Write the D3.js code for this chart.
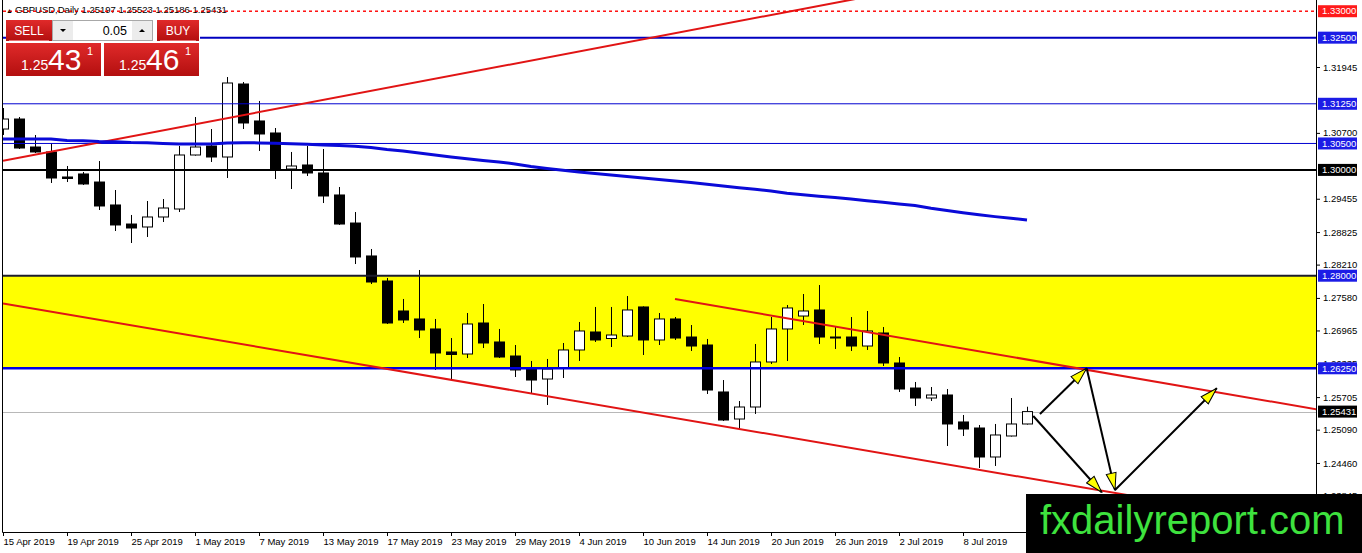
<!DOCTYPE html>
<html>
<head>
<meta charset="utf-8">
<script src="https://cdn.jsdelivr.net/npm/d3@7/dist/d3.min.js"></script>
<style>
  body { margin: 0; background: #ffffff; overflow: hidden; }
  svg text { font-family: 'Liberation Sans', Arial, sans-serif; }
</style>
</head>
<body>
<div class="graph"><svg></svg></div>
<script>
// GBPUSD daily bars
const dates = [
  '15 Apr 2019', '16 Apr 2019', '17 Apr 2019', '18 Apr 2019', '19 Apr 2019',
  '22 Apr 2019', '23 Apr 2019', '24 Apr 2019', '25 Apr 2019', '26 Apr 2019',
  '29 Apr 2019', '30 Apr 2019', '1 May 2019', '2 May 2019', '3 May 2019',
  '6 May 2019', '7 May 2019', '8 May 2019', '9 May 2019', '10 May 2019',
  '13 May 2019', '14 May 2019', '15 May 2019', '16 May 2019', '17 May 2019',
  '20 May 2019', '21 May 2019', '22 May 2019', '23 May 2019', '24 May 2019',
  '27 May 2019', '28 May 2019', '29 May 2019', '30 May 2019', '31 May 2019',
  '3 Jun 2019', '4 Jun 2019', '5 Jun 2019', '6 Jun 2019', '7 Jun 2019',
  '10 Jun 2019', '11 Jun 2019', '12 Jun 2019', '13 Jun 2019', '14 Jun 2019',
  '17 Jun 2019', '18 Jun 2019', '19 Jun 2019', '20 Jun 2019', '21 Jun 2019',
  '24 Jun 2019', '25 Jun 2019', '26 Jun 2019', '27 Jun 2019', '28 Jun 2019',
  '1 Jul 2019', '2 Jul 2019', '3 Jul 2019', '4 Jul 2019', '5 Jul 2019',
  '8 Jul 2019', '9 Jul 2019', '10 Jul 2019', '11 Jul 2019', '12 Jul 2019'
]

const opens = [
  1.30773, 1.30962, 1.30433, 1.30339, 1.29866, 1.29923, 1.29771, 1.29337, 1.28977, 1.28921,
  1.29110, 1.29261, 1.30282, 1.30452, 1.30244, 1.31624, 1.30925, 1.30698, 1.30017, 1.30093,
  1.29942, 1.29526, 1.28996, 1.28373, 1.27900, 1.27333, 1.27182, 1.26993, 1.26558, 1.26520,
  1.27106, 1.26747, 1.26482, 1.26236, 1.26047, 1.26255, 1.26596, 1.26936, 1.26813, 1.26860,
  1.27409, 1.26785, 1.27182, 1.26841, 1.26690, 1.25802, 1.25291, 1.25518, 1.26369, 1.26993,
  1.27238, 1.27352, 1.26841, 1.26841, 1.26671, 1.26917, 1.26350, 1.25877, 1.25688, 1.25745,
  1.25235, 1.25121, 1.24573, 1.24970, 1.25197
]

const highs = [
  1.31170, 1.31000, 1.30660, 1.30509, 1.30074, 1.29961, 1.30168, 1.29620, 1.29148, 1.29412,
  1.29450, 1.30452, 1.31000, 1.30773, 1.31756, 1.31662, 1.31303, 1.30792, 1.30339, 1.30452,
  1.30395, 1.29677, 1.29204, 1.28505, 1.27957, 1.27560, 1.28108, 1.27182, 1.26822, 1.27295,
  1.27465, 1.26993, 1.26690, 1.26388, 1.26426, 1.26728, 1.27125, 1.27409, 1.27409, 1.27616,
  1.27420, 1.27295, 1.27219, 1.27068, 1.26804, 1.26028, 1.25631, 1.26709, 1.27219, 1.27446,
  1.27654, 1.27824, 1.27030, 1.27219, 1.27333, 1.27030, 1.26463, 1.25991, 1.25896, 1.25858,
  1.25367, 1.25178, 1.25197, 1.25688, 1.25523
]

const lows = [
  1.30660, 1.30395, 1.30320, 1.29753, 1.29771, 1.29715, 1.29242, 1.28845, 1.28618, 1.28732,
  1.29015, 1.29204, 1.30270, 1.30150, 1.29847, 1.30773, 1.30358, 1.29828, 1.29639, 1.29885,
  1.29374, 1.28960, 1.28221, 1.27843, 1.27087, 1.27106, 1.26822, 1.26218, 1.26047, 1.26444,
  1.26633, 1.26444, 1.26085, 1.25783, 1.25556, 1.26066, 1.26388, 1.26747, 1.26652, 1.26841,
  1.26501, 1.26690, 1.26785, 1.26577, 1.25764, 1.25253, 1.25083, 1.25386, 1.26331, 1.26388,
  1.27068, 1.26709, 1.26615, 1.26577, 1.26596, 1.26293, 1.25802, 1.25537, 1.25631, 1.24781,
  1.24970, 1.24365, 1.24403, 1.24960, 1.25186
]

const closes = [
  1.30962, 1.30414, 1.30339, 1.29847, 1.29838, 1.29734, 1.29318, 1.28959, 1.28902, 1.29110,
  1.29280, 1.30282, 1.30433, 1.30244, 1.31643, 1.30887, 1.30679, 1.30017, 1.30074, 1.29942,
  1.29507, 1.28977, 1.28354, 1.27881, 1.27106, 1.27163, 1.26974, 1.26539, 1.26511, 1.27087,
  1.26728, 1.26463, 1.26218, 1.26028, 1.26236, 1.26596, 1.26955, 1.26785, 1.26879, 1.27352,
  1.26785, 1.27182, 1.26822, 1.26671, 1.25839, 1.25272, 1.25518, 1.26369, 1.26993, 1.27390,
  1.27333, 1.26841, 1.26832, 1.26671, 1.26955, 1.26350, 1.25858, 1.25688, 1.25745, 1.25197,
  1.25102, 1.24573, 1.24989, 1.25197, 1.25431
]

// the thick blue moving average
const maValues = [
  1.30584, 1.30584, 1.30584, 1.30584, 1.30556, 1.30552, 1.30537, 1.30533, 1.30518, 1.30514,
  1.30499, 1.30490, 1.30490, 1.30490, 1.30509, 1.30514, 1.30511, 1.30503, 1.30494, 1.30484,
  1.30471, 1.30460, 1.30446, 1.30424, 1.30386, 1.30358, 1.30320, 1.30282, 1.30244, 1.30212,
  1.30178, 1.30150, 1.30112, 1.30065, 1.30027, 1.29993, 1.29961, 1.29932, 1.29904, 1.29875,
  1.29847, 1.29819, 1.29790, 1.29760, 1.29728, 1.29696, 1.29664, 1.29633, 1.29601, 1.29558,
  1.29530, 1.29503, 1.29477, 1.29448, 1.29418, 1.29388, 1.29357, 1.29327, 1.29274, 1.29233,
  1.29191, 1.29151, 1.29117, 1.29085, 1.29053
]

// the 12 Jul label falls under the watermark, so it is not drawn
const xTickLabels = [
  '15 Apr 2019', '19 Apr 2019', '25 Apr 2019', '1 May 2019', '7 May 2019', '13 May 2019',
  '17 May 2019', '23 May 2019', '29 May 2019', '4 Jun 2019', '10 Jun 2019', '14 Jun 2019',
  '20 Jun 2019', '26 Jun 2019', '2 Jul 2019', '8 Jul 2019'
]

// ticks that sit under a price tag are left out
const priceTicks = [
  1.31945, 1.30700, 1.29455, 1.28825, 1.28210,
  1.27580, 1.26965, 1.26335, 1.25705, 1.25090, 1.24460, 1.23845
]

// horizontal levels drawn on the chart
const levelPrices = [1.33000, 1.32500, 1.31250, 1.30500, 1.30000, 1.28000, 1.26250]
const zoneBounds = [1.28000, 1.26250]
const lastPrice = 1.25431

// trend lines and arrows as [bar index, price] anchors
const risingLine = [[0, 1.30174], [60, 1.33617]]
const channelBottom = [[0, 1.27475], [90, 1.22836]]
const channelTop = [[42, 1.27560], [90, 1.25063]]
const arrows = [
  [[64.81, 1.25386], [67.73, 1.26250]],
  [[67.73, 1.26250], [69.50, 1.23949]],
  [[64.39, 1.25348], [68.67, 1.23906]],
  [[69.50, 1.23949], [75.86, 1.25872]]
]

const symbolHeader = ['GBPUSD,Daily', '1.25197', '1.25523', '1.25186', '1.25431']

const WIDTH = 1362
const HEIGHT = 553
const PLOT = { left: 3, right: 1316, top: 0, bottom: 532 }

// stroke, width, dash, label box colour for each level
const LEVEL_STYLES = [
  { stroke: '#ff0000', width: 1, dash: '3,3', box: '#ff1a1a' },
  { stroke: '#0000c0', width: 2, dash: null, box: '#1c1ce6' },
  { stroke: '#0000d0', width: 1, dash: null, box: '#1c1ce6' },
  { stroke: '#0000d0', width: 1, dash: null, box: '#1c1ce6' },
  { stroke: '#000000', width: 2, dash: null, box: '#000000' },
  { stroke: '#1c1c2c', width: 2, dash: null, box: '#1c1ce6' },
  { stroke: '#0000e0', width: 2.5, dash: null, box: '#1c1ce6' }
]

/**
 * Sets the size of the SVG canvas.
 *
 * @returns {*} The svg selection
 */
function setCanvasSize () {
  return d3.select('.graph').select('svg')
    .attr('width', WIDTH)
    .attr('height', HEIGHT)
}

/**
 * Builds the bar index scale.
 *
 * @returns {*} The x scale
 */
function getXScale () {
  return d3.scaleLinear()
    .domain([0, dates.length - 1])
    .range([3, 1027])
}

/**
 * Builds the price scale.
 *
 * @returns {*} The y scale
 */
function getYScale () {
  return d3.scaleLinear()
    .domain([1.23155, 1.33212])
    .range([PLOT.bottom, PLOT.top])
}

/**
 * Defines the clip path, the arrow head marker and the button gradient.
 *
 * @param {*} svg The svg selection
 */
function appendDefs (svg) {
  const defs = svg.append('defs')
  defs.append('clipPath')
    .attr('id', 'plot-clip')
    .append('rect')
    .attr('x', PLOT.left)
    .attr('y', PLOT.top)
    .attr('width', PLOT.right - PLOT.left)
    .attr('height', PLOT.bottom - PLOT.top)

  defs.append('marker')
    .attr('id', 'arrow-head')
    .attr('viewBox', '0 -6 19 12')
    .attr('refX', 18)
    .attr('refY', 0)
    .attr('markerWidth', 19)
    .attr('markerHeight', 12)
    .attr('markerUnits', 'userSpaceOnUse')
    .attr('orient', 'auto')
    .append('path')
    .attr('d', 'M1,-5L18,0L1,5Z')
    .attr('fill', '#ffff00')
    .attr('stroke', '#000000')
    .attr('stroke-width', 1)

  const grad = defs.append('linearGradient')
    .attr('id', 'red-grad')
    .attr('x1', 0).attr('y1', 0).attr('x2', 0).attr('y2', 1)
  grad.append('stop').attr('offset', '0%').attr('stop-color', '#e02a2a')
  grad.append('stop').attr('offset', '100%').attr('stop-color', '#b30f0f')
}

/**
 * Draws the yellow zone and the last price line behind the bars.
 */
function drawBackground (g, y) {
  g.append('rect')
    .attr('x', PLOT.left)
    .attr('y', y(zoneBounds[0]))
    .attr('width', PLOT.right - PLOT.left)
    .attr('height', y(zoneBounds[1]) - y(zoneBounds[0]))
    .attr('fill', '#ffff00')

  g.append('line')
    .attr('x1', PLOT.left).attr('x2', PLOT.right)
    .attr('y1', Math.round(y(lastPrice)) + 0.5)
    .attr('y2', Math.round(y(lastPrice)) + 0.5)
    .attr('stroke', '#b8b8b8')
    .attr('stroke-width', 1)
}

/**
 * Draws the candlesticks.
 */
function drawCandles (g, x, y) {
  const bars = d3.range(dates.length).map(i => ({
    i, o: opens[i], h: highs[i], l: lows[i], c: closes[i]
  }))

  const candle = g.append('g').attr('class', 'candles')
    .selectAll('g')
    .data(bars)
    .join('g')

  candle.append('line')
    .attr('x1', d => Math.round(x(d.i)) + 0.5)
    .attr('x2', d => Math.round(x(d.i)) + 0.5)
    .attr('y1', d => y(d.h))
    .attr('y2', d => y(d.l))
    .attr('stroke', '#000000')
    .attr('stroke-width', 1)

  candle.append('rect')
    .attr('x', d => Math.round(x(d.i)) - 4.5)
    .attr('y', d => y(Math.max(d.o, d.c)))
    .attr('width', 10)
    .attr('height', d => Math.max(1, Math.abs(y(d.o) - y(d.c))))
    .attr('fill', d => d.c >= d.o ? '#ffffff' : '#000000')
    .attr('stroke', '#000000')
    .attr('stroke-width', 1)
}

/**
 * Draws the horizontal support / resistance levels.
 */
function drawLevels (g, y) {
  g.append('g').attr('class', 'levels')
    .selectAll('line')
    .data(levelPrices)
    .join('line')
    .attr('x1', PLOT.left)
    .attr('x2', PLOT.right)
    .attr('y1', d => y(d))
    .attr('y2', d => y(d))
    .attr('stroke', (d, i) => LEVEL_STYLES[i].stroke)
    .attr('stroke-width', (d, i) => LEVEL_STYLES[i].width)
    .attr('stroke-dasharray', (d, i) => LEVEL_STYLES[i].dash)
}

/**
 * Draws the red trend lines and the moving average.
 */
function drawTrendLines (g, x, y) {
  const line = d3.line()
    .x(d => x(d[0]))
    .y(d => y(d[1]))

  g.selectAll('.trend')
    .data([risingLine, channelBottom, channelTop])
    .join('path')
    .attr('class', 'trend')
    .attr('d', line)
    .attr('fill', 'none')
    .attr('stroke', '#e11414')
    .attr('stroke-width', 2)

  g.append('path')
    .datum(maValues)
    .attr('d', d3.line().x((d, i) => x(i)).y(d => y(d)))
    .attr('fill', 'none')
    .attr('stroke', '#0a0ad8')
    .attr('stroke-width', 3)
}

/**
 * Draws the black projection arrows.
 */
function drawArrows (g, x, y) {
  g.selectAll('.arrow')
    .data(arrows)
    .join('line')
    .attr('class', 'arrow')
    .attr('x1', d => x(d[0][0]))
    .attr('y1', d => y(d[0][1]))
    .attr('x2', d => x(d[1][0]))
    .attr('y2', d => y(d[1][1]))
    .attr('stroke', '#000000')
    .attr('stroke-width', 2)
    .attr('marker-end', 'url(#arrow-head)')
}

/**
 * Draws the frame and both axes.
 */
function drawAxes (svg, x, y) {
  const xAxis = d3.axisBottom(x)
    .tickValues(xTickLabels.map(lbl => dates.indexOf(lbl)))
    .tickFormat(i => dates[i])
    .tickSize(4)
    .tickPadding(2)

  const gx = svg.append('g')
    .attr('transform', `translate(0, ${PLOT.bottom})`)
    .call(xAxis)
  gx.select('.domain').remove()
  gx.selectAll('text')
    .attr('text-anchor', 'start')
    .attr('x', 0)
    .attr('font-size', 9.5)
    .attr('font-family', 'Liberation Sans, Arial, sans-serif')
    .attr('fill', '#000000')

  const yAxis = d3.axisRight(y)
    .tickValues(priceTicks)
    .tickFormat(d3.format('.5f'))
    .tickSize(4)
    .tickPadding(3)

  const gy = svg.append('g')
    .attr('transform', `translate(${PLOT.right}, 0)`)
    .call(yAxis)
  gy.select('.domain').remove()
  gy.selectAll('text')
    .attr('font-size', 9.5)
    .attr('font-family', 'Liberation Sans, Arial, sans-serif')
    .attr('fill', '#000000')

  // chart frame
  svg.append('path')
    .attr('d', `M${PLOT.left - 0.5},0V${PLOT.bottom + 0.5}H${PLOT.right + 0.5}V0`)
    .attr('fill', 'none')
    .attr('stroke', '#000000')
    .attr('stroke-width', 1)
}

/**
 * Draws the coloured price tags on the right axis.
 */
function drawPriceTags (svg, y) {
  const tags = levelPrices.map((p, i) => ({ p, fill: LEVEL_STYLES[i].box }))
  tags.push({ p: lastPrice, fill: '#000000' })

  const tag = svg.append('g').attr('class', 'tags')
    .selectAll('g')
    .data(tags)
    .join('g')
    .attr('transform', d => `translate(${PLOT.right + 2}, ${y(d.p)})`)

  tag.append('rect')
    .attr('x', 0)
    .attr('y', -6)
    .attr('width', 39)
    .attr('height', 12)
    .attr('fill', d => d.fill)

  tag.append('text')
    .text(d => d3.format('.5f')(d.p))
    .attr('x', 4)
    .attr('dy', '0.34em')
    .attr('font-size', 9.5)
    .attr('fill', '#ffffff')
}

/**
 * Draws the symbol header line at the top left.
 */
function drawHeader (svg) {
  svg.append('text')
    .text('\u25B2')
    .attr('x', 6)
    .attr('y', 13)
    .attr('font-size', 7)
    .attr('fill', '#000000')

  svg.append('text')
    .text(symbolHeader.join(' '))
    .attr('x', 15)
    .attr('y', 13)
    .attr('font-size', 9.5)
    .attr('fill', '#000000')
}

/**
 * Draws the one-click trading panel.
 */
function drawTradePanel (svg) {
  const p = svg.append('g').attr('class', 'panel')

  p.append('rect')
    .attr('x', 6).attr('y', 20).attr('width', 194).attr('height', 57)
    .attr('fill', '#ffffff')

  // small sell / buy buttons
  const buttons = [{ x: 6, w: 46, label: 'SELL' }, { x: 157, w: 42, label: 'BUY' }]
  buttons.forEach(b => {
    p.append('rect')
      .attr('x', b.x).attr('y', 20).attr('width', b.w).attr('height', 21)
      .attr('fill', 'url(#red-grad)')
    p.append('line')
      .attr('x1', b.x + 3).attr('x2', b.x + b.w - 3)
      .attr('y1', 40.5).attr('y2', 40.5)
      .attr('stroke', '#e87070')
    p.append('text')
      .text(b.label)
      .attr('x', b.x + b.w / 2).attr('y', 35)
      .attr('text-anchor', 'middle')
      .attr('font-size', 12)
      .attr('fill', '#ffffff')
  })

  // lot size input
  p.append('rect')
    .attr('x', 52.5).attr('y', 20.5).attr('width', 100).attr('height', 20)
    .attr('fill', '#ffffff').attr('stroke', '#a8a8a8')
  p.append('rect')
    .attr('x', 53).attr('y', 21).attr('width', 20).attr('height', 19)
    .attr('fill', '#ececec')
  p.append('rect')
    .attr('x', 132).attr('y', 21).attr('width', 20).attr('height', 19)
    .attr('fill', '#ececec')
  p.append('path').attr('d', 'M60,29L66,29L63,32Z').attr('fill', '#000000')
  p.append('path').attr('d', 'M139,32L145,32L142,29Z').attr('fill', '#000000')
  p.append('text')
    .text('0.05')
    .attr('x', 127).attr('y', 35)
    .attr('text-anchor', 'end')
    .attr('font-size', 12.5)
    .attr('fill', '#000000')

  // big quote boxes
  const quotes = [{ x: 6, w: 95, big: '43' }, { x: 104, w: 95, big: '46' }]
  quotes.forEach(q => {
    p.append('rect')
      .attr('x', q.x).attr('y', 43).attr('width', q.w).attr('height', 33)
      .attr('fill', 'url(#red-grad)')
    p.append('text')
      .text('1.25')
      .attr('x', q.x + 15).attr('y', 70)
      .attr('font-size', 14)
      .attr('fill', '#ffffff')
    p.append('text')
      .text(q.big)
      .attr('x', q.x + 42).attr('y', 70)
      .attr('font-size', 30)
      .attr('fill', '#ffffff')
    p.append('text')
      .text('1')
      .attr('x', q.x + 81).attr('y', 55)
      .attr('font-size', 11)
      .attr('fill', '#ffffff')
  })
}

/**
 * Draws the watermark box in the lower right corner.
 */
function drawLogo (svg) {
  svg.append('rect')
    .attr('x', 1026).attr('y', 494)
    .attr('width', WIDTH - 1026).attr('height', HEIGHT - 494)
    .attr('fill', '#000000')

  svg.append('text')
    .text('fxdailyreport.com')
    .attr('x', 1040).attr('y', 534)
    .attr('font-size', 40)
    .attr('fill', '#3ee23e')
}

const svg = setCanvasSize()
const x = getXScale()
const y = getYScale()

appendDefs(svg)

const plot = svg.append('g').attr('clip-path', 'url(#plot-clip)')
drawBackground(plot, y)
drawCandles(plot, x, y)
drawLevels(plot, y)
drawTrendLines(plot, x, y)
drawArrows(plot, x, y)

drawHeader(svg)
// the dashed 1.33 level runs over the header text
svg.append('line')
  .attr('x1', PLOT.left).attr('x2', PLOT.right)
  .attr('y1', y(levelPrices[0])).attr('y2', y(levelPrices[0]))
  .attr('stroke', LEVEL_STYLES[0].stroke)
  .attr('stroke-dasharray', LEVEL_STYLES[0].dash)

drawTradePanel(svg)
drawAxes(svg, x, y)
drawPriceTags(svg, y)
drawLogo(svg)
</script>
</body>
</html>
